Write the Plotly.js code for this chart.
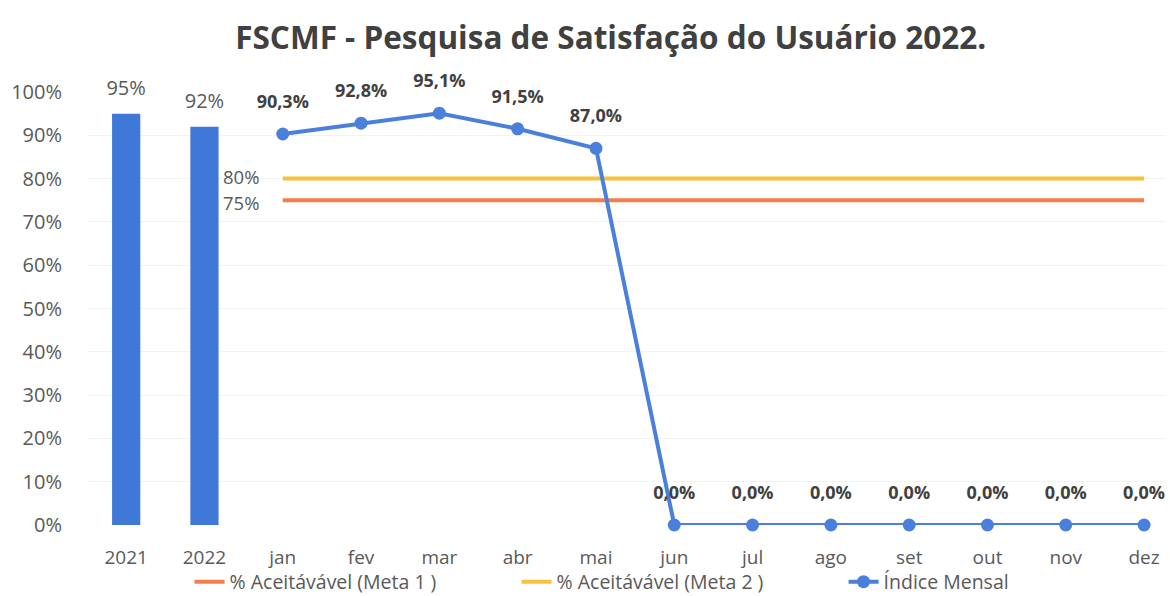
<!DOCTYPE html>
<html><head><meta charset="utf-8">
<script src="https://cdn.plot.ly/plotly-3.0.1.min.js"></script>
<style>body{margin:0;background:#fff}#c{width:1170px;height:596px}</style>
</head><body><div id="c"></div>
<script>
const categories = ['2021','2022','jan','fev','mar','abr','mai','jun','jul','ago','set','out','nov','dez'];
const yearCats = ['2021','2022'];
const yearValues = [0.95, 0.92];
const months = ['jan','fev','mar','abr','mai','jun','jul','ago','set','out','nov','dez'];
const indiceMensal = [0.903, 0.928, 0.951, 0.915, 0.870, 0, 0, 0, 0, 0, 0, 0];
const meta1 = months.map(() => 0.75);
const meta2 = months.map(() => 0.80);
const yTicks = [0,0.1,0.2,0.3,0.4,0.5,0.6,0.7,0.8,0.9,1.0];

const FONT = '"Open Sans", sans-serif';
const GRAY = '#595959';
const fmt1 = v => (v*100).toFixed(1).replace('.', ',') + '%';
const fmt0 = v => Math.round(v*100) + '%';

const traces = [
  {type:'bar', x: yearCats, y: yearValues, width: 0.36, marker:{color:'#3f78d8'}, showlegend:false, hoverinfo:'skip'},
  {type:'scatter', mode:'markers+text', x: yearCats, y: yearValues, text: yearValues.map(fmt0), textposition:'top center',
   marker:{size:20, opacity:0}, textfont:{family:FONT, size:20, color:GRAY}, showlegend:false, cliponaxis:false},
  {type:'scatter', mode:'lines', name:'% Aceitávável (Meta 1 )', x: months, y: meta1,
   line:{color:'#f47d4a', width:4}},
  {type:'scatter', mode:'lines', name:'% Aceitávável (Meta 2 )', x: months, y: meta2,
   line:{color:'#f8c23a', width:4}},
  {type:'scatter', mode:'lines+markers', name:'Índice Mensal', x: months, y: indiceMensal,
   line:{color:'#4a80dc', width:4}, marker:{size:13, color:'#4a80dc'}, cliponaxis:false},
  {type:'scatter', mode:'markers+text', x: months, y: indiceMensal, showlegend:false,
   marker:{size:33, opacity:0}, text: indiceMensal.map(fmt1), textposition:'top center', cliponaxis:false,
   textfont:{family:FONT, size:18, color:'#404040', weight:'bold'}}
];

const annotations = [
  {x: months[0], y: meta2[0], text: fmt0(meta2[0]), xref:'x', yref:'y', xanchor:'right', xshift:-22, yshift:2, showarrow:false,
   font:{family:FONT, size:18.5, color:GRAY}},
  {x: months[0], y: meta1[0], text: fmt0(meta1[0]), xref:'x', yref:'y', xanchor:'right', xshift:-22, yshift:-2, showarrow:false,
   font:{family:FONT, size:18.5, color:GRAY}}
];

const layout = {
  width:1170, height:596,
  margin:{l:87, r:4, t:92, b:71},
  paper_bgcolor:'#fff', plot_bgcolor:'#fff',
  font:{family:FONT, color:GRAY},
  title:{text:'FSCMF - Pesquisa de Satisfação do Usuário 2022.', x:0.522, xanchor:'center', y:0.937, yanchor:'middle',
    font:{family:FONT, size:31.5, color:'#404040', weight:'bold'}},
  xaxis:{type:'category', categoryorder:'array', categoryarray: categories, range:[-0.5, 13.28], automargin:false,
    showgrid:false, zeroline:false, showline:false, ticks:'outside', ticklen:15, tickcolor:'rgba(0,0,0,0)',
    tickfont:{family:FONT, size:19, color:GRAY}},
  yaxis:{range:[0,1], tickvals:yTicks, ticktext:yTicks.map(fmt0), showgrid:true, gridcolor:'#f3f3f3', automargin:false,
    zeroline:false, showline:false, ticks:'outside', ticklen:20, tickcolor:'rgba(0,0,0,0)',
    tickfont:{family:FONT, size:20, color:GRAY}},
  showlegend:true,
  legend:{orientation:'h', xref:'container', yref:'container', x:0.162, xanchor:'left', y:0.0235, yanchor:'middle',
    bgcolor:'rgba(0,0,0,0)', font:{family:FONT, size:19.5, color:GRAY}, entrywidth:282, tracegroupgap:0},
  annotations: annotations
};

Plotly.newPlot('c', traces, layout, {displayModeBar:false, staticPlot:true});
</script></body></html>
